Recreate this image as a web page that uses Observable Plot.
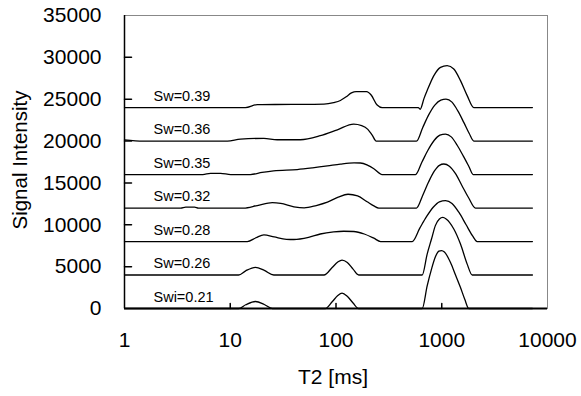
<!DOCTYPE html>
<html><head><meta charset="utf-8">
<script src="https://cdn.jsdelivr.net/npm/d3@7"></script>
<script src="https://cdn.jsdelivr.net/npm/@observablehq/plot@0.6"></script>
<style>body{margin:0;background:#fff;} svg{font-family: Arial, "Liberation Sans", sans-serif;}</style>
</head><body><div id="chart"></div>
<script>
const seriesNames = ["Swi=0.21", "Sw=0.26", "Sw=0.28", "Sw=0.32", "Sw=0.35", "Sw=0.36", "Sw=0.39"];
const offsets = [0, 4000, 8000, 12000, 16000, 20000, 24000];

// [T2 (ms), signal above the curve's baseline]
const sw021 = [[1,0],[12,0],[14,450],[17.3,835],[21,480],[25,0],[79,0],[92,800],[104,1550],[114,1830],[127,1500],[145,650],[164,0],
  [653,0],[728,2700],[800,4700],[873,6200],[940,6850],[995,6920],[1060,6750],[1210,5500],[1350,4000],[1504,2500],[1650,1100],[1803,0],[7200,0]];
const sw026 = [[1,0],[12,0],[14,500],[17.3,915],[21,550],[25.8,0],[77,0],[92,900],[104,1550],[114,1790],[128,1500],[145,700],[164,0],
  [653,0],[728,2500],[800,4300],[870,5900],[950,6700],[1023,6880],[1100,6700],[1300,5500],[1504,3700],[1740,1300],[1940,0],[7200,0]];
const sw028 = [[1,0],[14.5,0],[17.5,450],[20.8,800],[26,550],[34,260],[40,240],[55,500],[71,900],[95,1150],[118,1230],[147,1200],[185,900],[228,400],[264,0],
  [525,0],[620,1600],[720,3000],[830,4100],[950,4750],[1085,4880],[1250,4550],[1450,3500],[1700,2000],[1950,700],[2163,0],[7200,0]];
const sw032 = [[1,0],[3.4,0],[3.8,120],[4.6,120],[5,0],[13.4,0],[18,300],[25,636],[30,550],[40,150],[50,20],[65,300],[83,700],[105,1300],[130,1650],[160,1450],[197,750],[228,250],[254,0],
  [577,0],[660,1500],[750,3100],[850,4400],[950,5100],[1047,5260],[1180,5000],[1350,4100],[1550,2700],[1800,1200],[2085,0],[7200,0]];
const sw035 = [[1,0],[5.5,0],[6.5,150],[8.1,150],[10.1,0],[15.5,0],[20,250],[25.7,440],[43,600],[60,800],[83,1030],[110,1250],[148,1390],[170,1380],[200,1100],[228,700],[273,0],
  [565,0],[650,1500],[740,2900],[850,4100],[960,4700],[1085,4840],[1230,4500],[1400,3500],[1600,2200],[1800,1000],[1983,0],[7200,0]];
const sw036 = [[1,150],[1.5,0],[9.4,0],[12.5,240],[20.8,320],[27.8,160],[46,160],[71,640],[103,1350],[147,2030],[175,1850],[200,1400],[220,700],[240,0],
  [577,0],[660,1600],[750,3100],[860,4300],[980,4900],[1097,5020],[1250,4650],[1420,3600],[1620,2200],[1820,900],[2010,0],[7200,0]];
const sw039 = [[1,0],[13.9,0],[18,360],[40,380],[77,420],[95,600],[110,850],[125,1300],[140,1750],[155,1910],[195,1910],[215,1500],[245,300],[273,0],
  [600,0],[625,-200],[680,1100],[728,2030],[842,3820],[973,4810],[1125,5010],[1300,4610],[1504,3220],[1740,1430],[2011,0],[7200,0]];

const xTicks = [1, 10, 100, 1000, 10000];
const yTicks = [0, 5000, 10000, 15000, 20000, 25000, 30000, 35000];

const curves = [sw021, sw026, sw028, sw032, sw035, sw036, sw039];
const rows = [];
curves.forEach((pts, i) => pts.forEach(([t, a]) => rows.push({name: seriesNames[i], T2: t, y: offsets[i] + a})));
const labelRows = seriesNames.map((n, i) => ({name: n, y: offsets[i]}));
const tickLine = {draw(ctx, l) { ctx.moveTo(0, 0); ctx.lineTo(0, -l); }};

const chart = Plot.plot({
  width: 581, height: 396,
  marginLeft: 124, marginRight: 34, marginTop: 15, marginBottom: 88,
  x: {type: "log", domain: [1, 10000]},
  y: {domain: [0, 35000]},
  style: {fontFamily: "Arial, 'Liberation Sans', sans-serif", background: "#fff", color: "black"},
  marks: [
    Plot.frame({stroke: "#888", strokeWidth: 1}),
    Plot.axisX({ticks: xTicks, tickSize: 0, tickPadding: 24, tickFormat: d => String(d), fontSize: 21, label: null}),
    Plot.axisY({ticks: yTicks, tickSize: 0, tickPadding: 23, tickFormat: d => String(d), fontSize: 21, label: null}),
    Plot.vector(xTicks.slice(1, -1), {x: d => d, frameAnchor: "bottom", length: 5, rotate: 0, anchor: "start", shape: tickLine, stroke: "black"}),
    Plot.vector(yTicks.slice(1, -1), {y: d => d, frameAnchor: "left", length: 7, rotate: 90, anchor: "start", shape: tickLine, stroke: "black"}),
    Plot.line(rows, {x: "T2", y: "y", z: "name", curve: "monotone-x", stroke: "black", strokeWidth: 1.3}),
    Plot.ruleX([1], {stroke: "black", strokeWidth: 1.5}),
    Plot.ruleY([0], {stroke: "black", strokeWidth: 2}),
    Plot.text(labelRows, {y: "y", text: "name", frameAnchor: "left", dx: 29, dy: -11.5, textAnchor: "start", fontSize: 14.5, fill: "black"}),
    Plot.text(["Signal Intensity"], {frameAnchor: "left", textAnchor: "middle", lineAnchor: "middle", dx: -104, dy: -2, rotate: -90, fontSize: 20.5, text: d => d, fill: "black"}),
    Plot.text(["T2 [ms]"], {frameAnchor: "bottom", textAnchor: "middle", lineAnchor: "middle", dy: 69, dx: -3, fontSize: 21, text: d => d, fill: "black"})
  ]
});
document.getElementById("chart").appendChild(chart);
</script>
</body></html>
